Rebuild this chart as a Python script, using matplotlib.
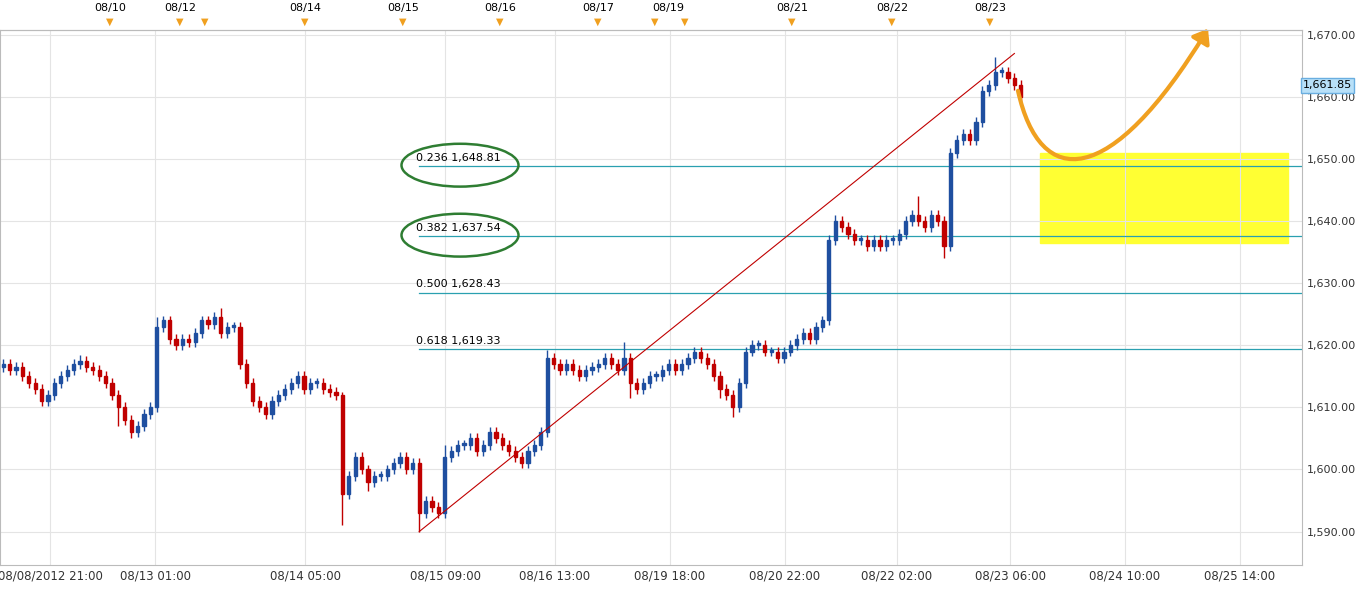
import matplotlib
matplotlib.use("Agg")
import matplotlib.pyplot as plt
from matplotlib.patches import Ellipse, Rectangle, FancyArrowPatch
from matplotlib.path import Path

closes = [1617,1616,1616.5,1615,1614,1613,1611,1612,1614,1615,
 1616,1617,1617.5,1616.5,1616,1615,1614,1612,1610,1608,
 1606,1607,1609,1610,1623,1624,1621,1620,1621,1620.5,
 1622,1624,1623.5,1624.5,1622,1623,1623,1617,1614,1611,
 1610,1609,1611,1612,1613,1614,1615,1613,1614,1614,
 1613,1612.5,1612,1596,1599,1602,1600,1598,1599,1599,
 1600,1601,1602,1600,1601,1593,1595,1594,1593,1602,
 1603,1604,1604,1605,1603,1604,1606,1605,1604,1603,
 1602,1601,1603,1604,1606,1618,1617,1616,1617,1616,
 1615,1616,1616.5,1617,1618,1617,1616,1618,1614,1613,
 1614,1615,1615,1616,1617,1616,1617,1618,1619,1618,
 1617,1615,1613,1612,1610,1614,1619,1620,1620,1619,
 1619,1618,1619,1620,1621,1622,1621,1623,1624,1637,
 1640,1639,1638,1637,1637,1636,1637,1636,1637,1637,
 1638,1640,1641,1640,1639,1641,1640,1636,1651,1653,
 1654,1653,1656,1661,1662,1664,1664,1663,1662,1660]
first_open = 1616.5
upper_wick = [0.8]*160
lower_wick = [0.8]*160
for i, v in {24:1.5, 34:1.5, 53:0.5, 85:1.2, 97:2.5, 130:1, 143:3, 155:2.5, 12:1, 69:2}.items():
    upper_wick[i] = v
for i, v in {20:1.0, 18:3, 53:5, 65:3, 114:1.5, 147:2, 98:2.5, 112:1.5, 57:1.5}.items():
    lower_wick[i] = v

fib_levels = [1648.81, 1637.54, 1628.43, 1619.33]
fib_ratios = ["0.236", "0.382", "0.500", "0.618"]
last_price = 1661.85
yticks = [1590, 1600, 1610, 1620, 1630, 1640, 1650, 1660, 1670]
bottom_labels = ["08/08/2012 21:00", "08/13 01:00", "08/14 05:00", "08/15 09:00", "08/16 13:00",
                 "08/19 18:00", "08/20 22:00", "08/22 02:00", "08/23 06:00", "08/24 10:00", "08/25 14:00"]
bottom_px = [50, 155, 305, 445, 555, 670, 785, 897, 1010, 1125, 1240]
top_labels = ["08/10", "08/12", "08/14", "08/15", "08/16", "08/17", "08/19", "08/21", "08/22", "08/23"]
top_px = [110, 180, 305, 403, 500, 598, 668, 792, 892, 990]
tri_px = [110, 180, 205, 305, 403, 500, 598, 655, 685, 792, 892, 990]

PX = 6.4
def px(x):
    return x / PX - 0.5

fig = plt.figure(figsize=(13.6, 5.98), dpi=100)
ax = fig.add_axes([0, 0.055, 1302/1360, 0.895])
ax.set_xlim(-0.5, px(1302))
ax.set_ylim(1584.6, 1670.8)

opens = [first_open] + closes[:-1]
for i, (o, c) in enumerate(zip(opens, closes)):
    col = "#1f4fa0" if c >= o else "#c00000"
    hi = max(o, c) + upper_wick[i]
    lo = min(o, c) - lower_wick[i]
    ax.vlines(i, lo, hi, color=col, lw=1, zorder=3)
    ax.add_patch(Rectangle((i - 0.25, min(o, c)), 0.5, max(abs(c - o), 0.3), color=col, zorder=4))

ax.plot([65, 158], [1590, 1667], color="#c00000", lw=0.8, zorder=5)
for r, lv in zip(fib_ratios, fib_levels):
    ax.plot([65, px(1302)], [lv, lv], color="#2aa0b0", lw=0.9, zorder=2)
    ax.text(64.5, lv + 0.6, f"{r} {lv:,.2f}", fontsize=8, family="DejaVu Sans", va="bottom")
for lv in fib_levels[:2]:
    ax.add_patch(Ellipse((px(460), lv + 0.2), 117 / PX, 6.9, fill=False, ec="#2e7d32", lw=1.8, zorder=6))
ax.add_patch(Rectangle((px(1040), 1636.5), (1288 - 1040) / PX, 14.5, color="#ffff33", zorder=1))

path = Path([(px(1018), 1661), (px(1040), 1645), (px(1110), 1645), (px(1208), 1671)],
            [Path.MOVETO, Path.CURVE4, Path.CURVE4, Path.CURVE4])
arr = FancyArrowPatch(path=path, arrowstyle="-|>,head_length=8,head_width=6", color="#f0a020",
                      lw=3, zorder=7, clip_on=False)
ax.add_patch(arr)

ax.yaxis.tick_right()
ax.set_yticks(yticks)
ax.set_yticklabels([f"{v:,.2f}" for v in yticks], fontsize=8)
ax.set_xticks([px(p) for p in bottom_px])
ax.set_xticklabels(bottom_labels, fontsize=8.5)
ax.tick_params(length=0, colors="#333333")
ax.grid(True, color="#e4e4e4", lw=0.8)
for s in ax.spines.values():
    s.set_color("#bbbbbb")
ax.text(px(1303), last_price, "1,661.85", fontsize=8, va="center", ha="left",
        bbox=dict(fc="#b8e0f8", ec="#6aaee0", pad=1.5), clip_on=False)

for p, l in zip(top_px, top_labels):
    fig.text(p / 1360, 1 - 8 / 598, l, fontsize=8, ha="center", va="center")
for p in tri_px:
    fig.text(p / 1360, 1 - 22 / 598, "▼", fontsize=7, color="#f0a020", ha="center", va="center")
fig.add_artist(plt.Line2D([0, 1302/1360], [1 - 30/598]*2, color="#bbbbbb", lw=0.8))

fig.savefig("out.png", dpi=100)
